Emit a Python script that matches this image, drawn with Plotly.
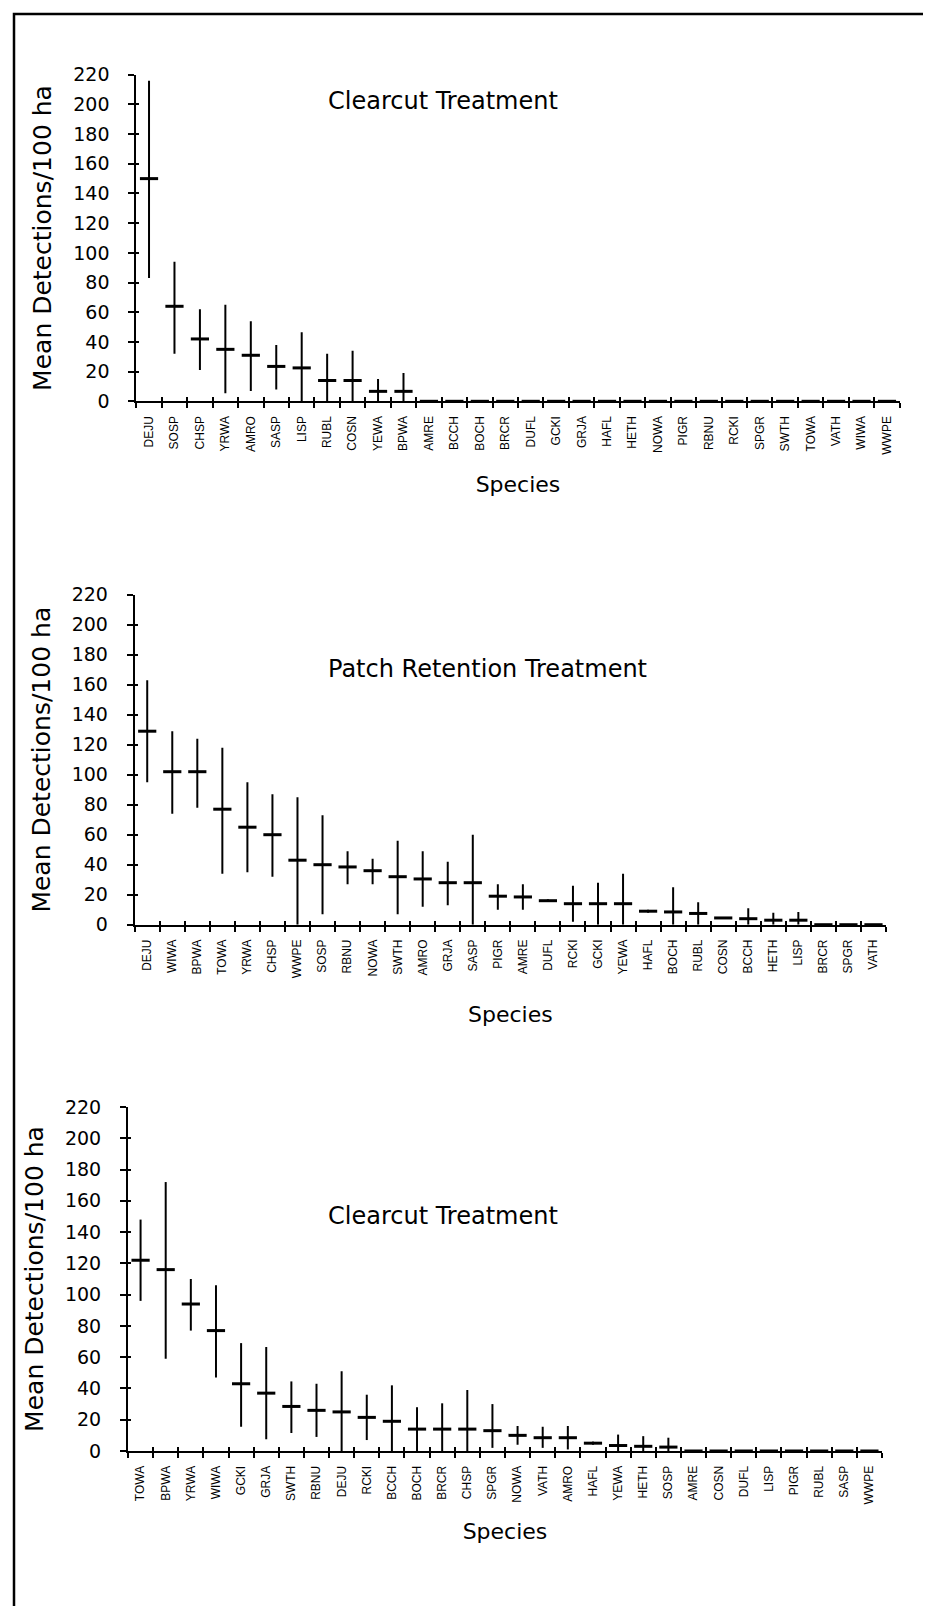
import plotly.graph_objects as go

W, H = 931, 1606

# ---------------- data ----------------
cats1 = ["DEJU", "SOSP", "CHSP", "YRWA", "AMRO", "SASP", "LISP", "RUBL", "COSN", "YEWA",
         "BPWA", "AMRE", "BCCH", "BOCH", "BRCR", "DUFL", "GCKI", "GRJA", "HAFL", "HETH",
         "NOWA", "PIGR", "RBNU", "RCKI", "SPGR", "SWTH", "TOWA", "VATH", "WIWA", "WWPE"]
mean1 = [150, 64, 42, 35, 31, 23.5, 22.5, 14, 14, 6.7,
         6.7, 0, 0, 0, 0, 0, 0, 0, 0, 0,
         0, 0, 0, 0, 0, 0, 0, 0, 0, 0]
upper1 = [216, 94, 62, 65, 54, 38, 46.5, 32, 34, 15,
          19, 0, 0, 0, 0, 0, 0, 0, 0, 0,
          0, 0, 0, 0, 0, 0, 0, 0, 0, 0]
lower1 = [83, 32, 21, 5.5, 7, 8, 0, 0, 0, 0,
          0, 0, 0, 0, 0, 0, 0, 0, 0, 0,
          0, 0, 0, 0, 0, 0, 0, 0, 0, 0]

cats2 = ["DEJU", "WIWA", "BPWA", "TOWA", "YRWA", "CHSP", "WWPE", "SOSP", "RBNU", "NOWA",
         "SWTH", "AMRO", "GRJA", "SASP", "PIGR", "AMRE", "DUFL", "RCKI", "GCKI", "YEWA",
         "HAFL", "BOCH", "RUBL", "COSN", "BCCH", "HETH", "LISP", "BRCR", "SPGR", "VATH"]
mean2 = [129, 102, 102, 77, 65, 60, 43, 40, 38.5, 36,
         32, 30.5, 28, 28, 19, 18.5, 16, 14, 14, 14,
         9, 8.5, 7.5, 4.5, 4, 3, 3, 0, 0, 0]
upper2 = [163, 129, 124, 118, 95, 87, 85, 73, 49, 44,
          56, 49, 42, 60, 27, 27, 17, 26, 28, 34,
          10, 25, 15, 5, 11, 8, 8.5, 0, 0, 0]
lower2 = [95, 74, 78, 34, 35, 32, 0, 7, 27, 27,
          7, 12, 13, 0, 10, 10, 15.5, 2, 0, 0,
          8, 0, 0, 4, 0, 0, 0, 0, 0, 0]

cats3 = ["TOWA", "BPWA", "YRWA", "WIWA", "GCKI", "GRJA", "SWTH", "RBNU", "DEJU", "RCKI",
         "BCCH", "BOCH", "BRCR", "CHSP", "SPGR", "NOWA", "VATH", "AMRO", "HAFL", "YEWA",
         "HETH", "SOSP", "AMRE", "COSN", "DUFL", "LISP", "PIGR", "RUBL", "SASP", "WWPE"]
mean3 = [122, 116, 94, 77, 43, 37, 28.5, 26, 25, 21.5,
         19, 14, 14, 14, 13, 10, 8.5, 8.5, 5, 3.5,
         3, 2.5, 0, 0, 0, 0, 0, 0, 0, 0]
upper3 = [148, 172, 110, 106, 69, 66.5, 44.5, 43, 51, 36,
          42, 28, 30.5, 39, 30, 16, 15.5, 16, 6, 10.5,
          9.5, 8.5, 0, 0, 0, 0, 0, 0, 0, 0]
lower3 = [96, 59, 77, 47, 15.5, 7.5, 11.5, 9, 0, 7,
          0, 0, 0, 0, 2, 4, 2, 1, 4, 0,
          0, 0, 0, 0, 0, 0, 0, 0, 0, 0]

titles = ["Clearcut Treatment", "Patch Retention Treatment", "Clearcut Treatment"]
y_title = "Mean Detections/100 ha"
x_title = "Species"
y_ticks = [0, 20, 40, 60, 80, 100, 120, 140, 160, 180, 200, 220]

# ---------------- layout helpers (pixel -> paper) ----------------
def px(x):
    return x / W

def py(y):
    return 1 - y / H

# (x_left, x_right, y_zero, y_top) in pixels for each panel
panels = [
    (128.3, 891.7, 393.3, 66.7),
    (126.7, 878.0, 916.7, 586.7),
    (120.0, 874.0, 1443.0, 1099.0),
]
title_pos = [(318, 93), (318, 661), (318, 1208)]
xtitle_standoff = [23, 29, 20]

datasets = [(cats1, mean1, upper1, lower1),
            (cats2, mean2, upper2, lower2),
            (cats3, mean3, upper3, lower3)]

fig = go.Figure()
WIDE_FONT = "DejaVu Sans, Verdana, sans-serif"
TEXT_FONT = "Liberation Sans, Arial, sans-serif"

for i, ((cats, m, up, lo), (xl, xr, y0, y1)) in enumerate(zip(datasets, panels)):
    suffix = "" if i == 0 else str(i + 1)
    ov = str(i + 4)  # overlay axes: carry the error bars and the inner half of crossing ticks
    # mean markers on the category axes
    fig.add_trace(go.Scatter(
        x=cats, y=m,
        mode="markers",
        marker=dict(symbol="line-ew", size=13, color="black",
                    line=dict(width=3, color="black")),
        cliponaxis=False,
        showlegend=False,
        hovertemplate="%{x}: %{y}<extra></extra>",
        xaxis="x" + suffix, yaxis="y" + suffix,
    ))
    # range bars on the overlaid axes (same scale, category index positions)
    fig.add_trace(go.Scatter(
        x=list(range(len(cats))), y=m,
        mode="markers",
        marker=dict(size=2, opacity=0, color="black"),
        error_y=dict(type="data", symmetric=False,
                     array=[u - v for u, v in zip(up, m)],
                     arrayminus=[v - l for v, l in zip(m, lo)],
                     thickness=2, width=0, color="black"),
        showlegend=False,
        hoverinfo="skip",
        xaxis="x" + ov, yaxis="y" + ov,
    ))
    xa = dict(
        domain=[px(xl), px(xr)],
        anchor="y" + suffix,
        type="category",
        categoryorder="array", categoryarray=cats,
        range=[-0.5, len(cats) - 0.5],
        tickson="boundaries",
        ticks="outside", ticklen=5, tickwidth=2, tickcolor="black",
        showline=True, linewidth=2, linecolor="black",
        showgrid=False, zeroline=False,
        tickangle=-90,
        tickfont=dict(family=TEXT_FONT, size=12, color="black"),
        ticklabelstandoff=8,
        title=dict(text=x_title, font=dict(family=WIDE_FONT, size=22, color="black"),
                   standoff=xtitle_standoff[i]),
        automargin=False,
        fixedrange=True,
    )
    ya = dict(
        domain=[py(y0), py(y1)],
        anchor="x" + suffix,
        range=[0, 220],
        tickmode="array", tickvals=y_ticks,
        ticks="outside", ticklen=6, tickwidth=2, tickcolor="black",
        showline=True, linewidth=2, linecolor="black",
        showgrid=False, zeroline=False,
        tickfont=dict(family=WIDE_FONT, size=19, color="black"),
        ticklabelstandoff=15,
        title=dict(text=y_title, font=dict(family=WIDE_FONT, size=25, color="black"),
                   standoff=14),
        automargin=False,
        fixedrange=True,
    )
    xo = dict(
        overlaying="x" + suffix, anchor="y" + ov, side="bottom",
        domain=[px(xl), px(xr)],
        range=[-0.5, len(cats) - 0.5],
        tickmode="array", tickvals=[k - 0.5 for k in range(len(cats) + 1)],
        ticks="inside", ticklen=4, tickwidth=2, tickcolor="black",
        showticklabels=False, showline=False, showgrid=False, zeroline=False,
        fixedrange=True,
    )
    yo = dict(
        overlaying="y" + suffix, anchor="x" + ov, side="left",
        domain=[py(y0), py(y1)],
        range=[0, 220],
        tickmode="array", tickvals=y_ticks,
        ticks="inside", ticklen=3, tickwidth=2, tickcolor="black",
        showticklabels=False, showline=False, showgrid=False, zeroline=False,
        fixedrange=True,
    )
    fig.layout["xaxis" + suffix] = xa
    fig.layout["yaxis" + suffix] = ya
    fig.layout["xaxis" + ov] = xo
    fig.layout["yaxis" + ov] = yo

    tx, ty = title_pos[i]
    fig.add_annotation(text=titles[i], xref="paper", yref="paper",
                       x=px(tx), y=py(ty), xanchor="left", yanchor="middle",
                       showarrow=False,
                       font=dict(family=WIDE_FONT, size=24, color="black"))

# outer frame
fig.add_shape(type="rect", xref="paper", yref="paper",
              x0=px(6), x1=px(926), y0=-0.02, y1=py(6),
              line=dict(color="black", width=2.5), fillcolor="rgba(0,0,0,0)")

fig.update_layout(
    width=W, height=H,
    margin=dict(l=0, r=0, t=0, b=0),
    paper_bgcolor="white", plot_bgcolor="white",
    font=dict(family=TEXT_FONT, color="black"),
)

fig.write_html("out.html")
